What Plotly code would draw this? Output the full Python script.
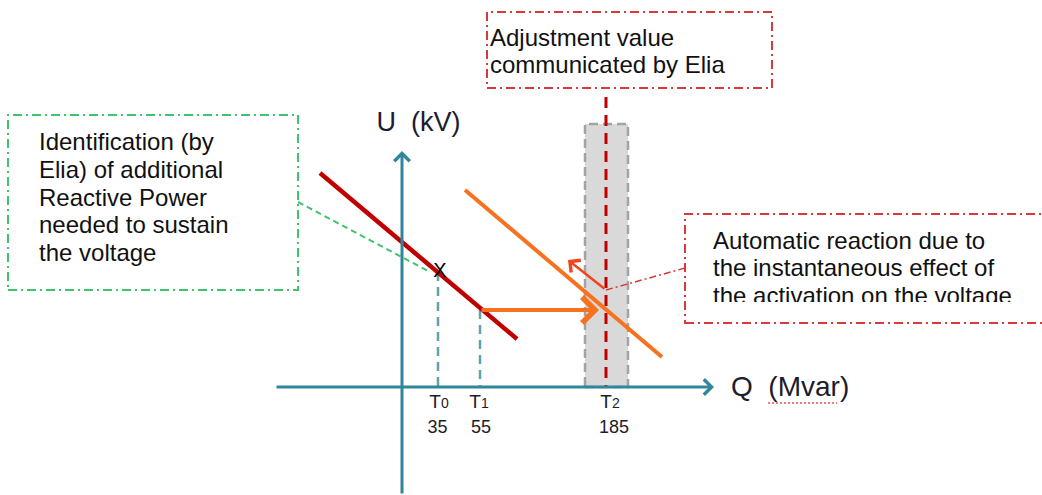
import plotly.graph_objects as go

# ---- data (diagram coordinates: origin at the axis crossing, Q to the right, U upward) ----
tick_base = ["T", "T", "T"]
tick_index = ["0", "1", "2"]
tick_values = [35, 55, 185]
tick_q = [36, 78, 204]            # where each T sits on the Q axis of the sketch
label_q = [37, 77, 208]           # label centres
value_q = [35.5, 79, 212]

red_line_q = [-82, 115]
red_line_u = [214, 48]
orange_line_q = [63, 260]
orange_line_u = [197, 30]
point_t0_u = 115
point_t1_u = 77

box1_lines = ["Identification (by", "Elia) of additional", "Reactive Power",
              "needed to sustain", "the voltage"]
box2_lines = ["Adjustment value", "communicated by Elia"]
box3_lines = ["Automatic reaction due to", "the instantaneous effect of",
              "the activation on the voltage"]

FONT = "Liberation Sans, Arial, sans-serif"
TEAL = "#31869B"
TEAL_LIGHT = "#5FA4AA"
DARKRED = "#C00000"
ORANGE = "#F7721F"
RED_ORANGE = "#F0461E"
BOXRED = "#D63A3A"
GREEN = "#3EC46A"
LABEL = "#1c1c2c"

fig = go.Figure()

# gray adjustment band
fig.add_shape(type="rect", x0=183, x1=226, y0=0, y1=263, xref="x", yref="y",
              fillcolor="#D9D9D9", line=dict(color="#A3A3A3", width=2.5, dash="9px,5px"),
              layer="below")

# dashed teal projections
fig.add_trace(go.Scatter(x=[tick_q[0], tick_q[0]], y=[point_t0_u, 0], mode="lines",
                         line=dict(color=TEAL_LIGHT, width=2.5, dash="9px,6px"), hoverinfo="skip"))
fig.add_trace(go.Scatter(x=[tick_q[1], tick_q[1]], y=[point_t1_u, 0], mode="lines",
                         line=dict(color=TEAL_LIGHT, width=2.5, dash="9px,6px"), hoverinfo="skip"))

# red dashed adjustment line
fig.add_trace(go.Scatter(x=[tick_q[2], tick_q[2]], y=[290, 0], mode="lines",
                         line=dict(color=DARKRED, width=3, dash="11px,7px"), hoverinfo="skip"))

# characteristic lines
fig.add_trace(go.Scatter(x=red_line_q, y=red_line_u, mode="lines",
                         line=dict(color=DARKRED, width=4.5), hoverinfo="skip"))
fig.add_trace(go.Scatter(x=orange_line_q, y=orange_line_u, mode="lines",
                         line=dict(color=ORANGE, width=4), hoverinfo="skip"))

# connectors
fig.add_trace(go.Scatter(x=[-104, 28], y=[185, 115], mode="lines",
                         line=dict(color=GREEN, width=2, dash="6px,4px"), hoverinfo="skip"))
fig.add_trace(go.Scatter(x=[tick_q[2], 283], y=[97, 119], mode="lines",
                         line=dict(color=BOXRED, width=1.5, dash="7px,3px,2px,3px"), hoverinfo="skip"))

# boxes
fig.add_shape(type="rect", x0=-394, x1=-104, y0=97, y1=272, xref="x", yref="y",
              line=dict(color=GREEN, width=2, dash="9px,4px,2px,4px"))
fig.add_shape(type="rect", x0=85, x1=370, y0=299, y1=375, xref="x", yref="y",
              line=dict(color=BOXRED, width=2, dash="9px,4px,2px,4px"))
fig.add_shape(type="rect", x0=283, x1=660, y0=64, y1=173, xref="x", yref="y",
              line=dict(color=BOXRED, width=2, dash="9px,4px,2px,4px"))

# texts
txt = dict(family=FONT, size=24, color="#111111")
fig.add_trace(go.Scatter(x=[-363] * 5, y=[243, 215, 187, 160, 132], text=box1_lines,
                         mode="text", textposition="middle right", textfont=txt, hoverinfo="skip"))
fig.add_trace(go.Scatter(x=[88] * 2, y=[347, 320], text=box2_lines,
                         mode="text", textposition="middle right", textfont=txt, hoverinfo="skip"))
fig.add_trace(go.Scatter(x=[311] * 3, y=[144, 117, 89], text=box3_lines,
                         mode="text", textposition="middle right", textfont=txt, hoverinfo="skip"))
# box 3 cuts its last line
fig.add_shape(type="rect", x0=286, x1=660, y0=66, y1=85, xref="x", yref="y",
              fillcolor="white", line=dict(width=0), layer="above")

# axis titles
fig.add_trace(go.Scatter(x=[16.5], y=[263], text=["U  (kV)"], mode="text",
                         textposition="middle center",
                         textfont=dict(family=FONT, size=27, color=LABEL), hoverinfo="skip"))
fig.add_trace(go.Scatter(x=[329], y=[-2], text=["Q  (Mvar)"], mode="text",
                         textposition="middle right",
                         textfont=dict(family=FONT, size=28, color=LABEL), hoverinfo="skip"))
fig.add_shape(type="line", x0=366, x1=435, y0=-16, y1=-16, xref="x", yref="y",
              line=dict(color="#F05050", width=1.5, dash="2px,2px"))

# tick labels
tick_text = [b + "<span style='font-size:14px'>" + i + "</span>"
             for b, i in zip(tick_base, tick_index)]
fig.add_trace(go.Scatter(x=label_q, y=[-16] * 3, text=tick_text, mode="text",
                         textposition="middle center",
                         textfont=dict(family=FONT, size=19, color=LABEL), hoverinfo="skip"))
fig.add_trace(go.Scatter(x=value_q, y=[-41] * 3, text=[str(v) for v in tick_values], mode="text",
                         textposition="middle center",
                         textfont=dict(family=FONT, size=18, color=LABEL), hoverinfo="skip"))

# X marker
fig.add_trace(go.Scatter(x=[38], y=[point_t0_u], text=["X"], mode="text",
                         textposition="middle center",
                         textfont=dict(family=FONT, size=20, color="black"), hoverinfo="skip"))

# arrows (axes and movements)
def arrow(x0, y0, x1, y1, color, width, size, head=4):
    fig.add_annotation(x=x1, y=y1, ax=x0, ay=y0, xref="x", yref="y", axref="x", ayref="y",
                       text="", showarrow=True, arrowhead=head, arrowsize=size,
                       arrowwidth=width, arrowcolor=color, standoff=0, startstandoff=0)

arrow(0, -108, 0, 236, TEAL, 3, 1.0)
arrow(-127, 0, 312, 0, TEAL, 3, 1.0)
arrow(tick_q[1], point_t1_u, 197, point_t1_u, ORANGE, 4, 1.25)
arrow(tick_q[2], 97, 166, 127, RED_ORANGE, 2.5, 1.2)

fig.update_layout(
    width=1042, height=495,
    margin=dict(l=0, r=0, t=0, b=0),
    paper_bgcolor="white", plot_bgcolor="white",
    showlegend=False,
    xaxis=dict(range=[-402, 640], visible=False, fixedrange=True),
    yaxis=dict(range=[-108, 387], visible=False, fixedrange=True),
)

fig.write_html("out.html", config={"displayModeBar": False},
               post_script="document.body.style.margin='0';document.body.style.overflow='hidden';")
